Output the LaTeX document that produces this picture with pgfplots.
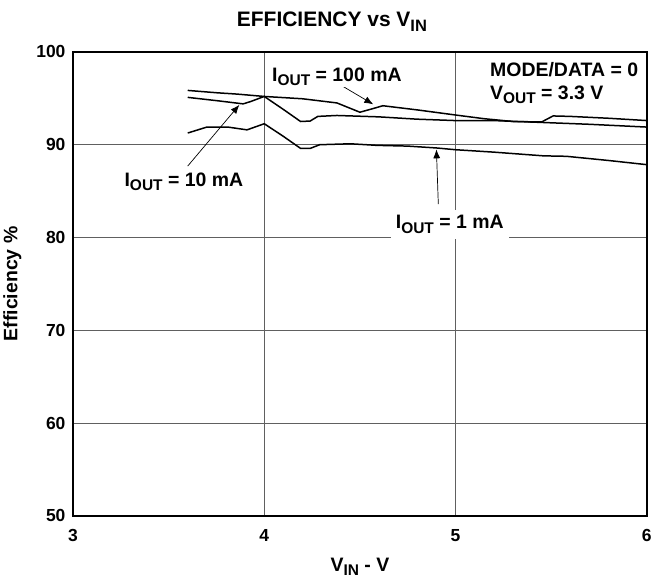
\documentclass[border=0pt]{standalone}
\usepackage{fontspec}
\setmainfont{Liberation Sans}
\usepackage{pgfplots}
\pgfplotsset{compat=1.18}
\usetikzlibrary{arrows.meta}
\newcommand{\sub}[1]{\raisebox{-0.45ex}{\fontsize{15.5}{15.5}\selectfont #1}}
\newcommand{\bigf}{\fontsize{19.5}{19.5}\selectfont\bfseries}
\begin{document}
\begin{tikzpicture}
\begin{axis}[
  scale only axis,
  width=575pt, height=465pt,
  xmin=3, xmax=6, ymin=50, ymax=100,
  xtick={3,4,5,6}, ytick={50,60,70,80,90,100},
  major tick length=0pt,
  /pgf/number format/assume math mode=true,
  ticklabel style={font=\fontsize{17.5}{17.5}\selectfont\bfseries},
  xticklabel style={yshift=-10pt},
  yticklabel style={xshift=-4pt},
  grid=major,
  major grid style={gray!75!black, line width=0.9pt},
  axis line style={line width=1.6pt},
  title={\fontsize{21}{21}\selectfont\bfseries EFFICIENCY vs V\raisebox{-0.45ex}{\fontsize{16.5}{16.5}\selectfont IN}},
  title style={yshift=11pt, xshift=-28pt},
  xlabel={\bigf V\sub{IN} - V},
  ylabel={\bigf Efficiency \%},
  xlabel style={yshift=-9pt},
  ylabel style={yshift=8pt},
  clip=false,
]
% I_OUT = 100 mA
\addplot[black, line width=1.5pt] coordinates {
(3.6,95.85) (3.75,95.6) (3.86,95.45) (4.0,95.2) (4.2,94.95) (4.38,94.5) (4.50,93.5) (4.57,93.9) (4.62,94.2) (4.8,93.75) (5.0,93.2) (5.15,92.8) (5.30,92.5) (5.45,92.45) (5.51,93.1) (5.6,93.05) (5.8,92.85) (6.0,92.6)
};
% I_OUT = 10 mA
\addplot[black, line width=1.5pt] coordinates {
(3.6,95.1) (3.75,94.75) (3.89,94.4) (3.93,94.66) (4.0,95.2) (4.1,93.8) (4.19,92.5) (4.24,92.55) (4.28,93.05) (4.38,93.15) (4.6,93.0) (4.8,92.75) (5.0,92.6) (5.2,92.6) (5.45,92.4) (5.7,92.2) (6.0,91.9)
};
% I_OUT = 1 mA
\addplot[black, line width=1.5pt] coordinates {
(3.6,91.26) (3.70,91.9) (3.81,91.9) (3.91,91.6) (4.0,92.26) (4.1,90.9) (4.19,89.6) (4.24,89.6) (4.29,90.0) (4.45,90.1) (4.59,89.93) (4.75,89.85) (4.90,89.65) (5.0,89.46) (5.2,89.2) (5.46,88.8) (5.58,88.75) (5.8,88.3) (6.0,87.85)
};
\draw[-{Latex[length=9pt,width=7pt]}, line width=0.7pt] (axis cs:4.41,96.3) -- (axis cs:4.57,94.35);
\draw[-{Latex[length=9pt,width=7pt]}, line width=0.7pt] (axis cs:3.60,87.7) -- (axis cs:3.87,94.3);
\draw[-{Latex[length=9pt,width=7pt]}, line width=0.7pt] (axis cs:4.91,83.6) -- (axis cs:4.90,89.5);
\node[fill=white, inner sep=1pt, font=\bigf] at (axis cs:4.38,97.3) {I\sub{OUT} = 100 mA};
\node[fill=white, inner sep=2pt, font=\bigf] at (axis cs:3.58,86.0) {I\sub{OUT} = 10 mA};
\node[fill=white, inner sep=5pt, font=\bigf] at (axis cs:4.97,81.4) {I\sub{OUT} = 1 mA};
\node[anchor=north west, align=left, inner sep=0pt, font=\fontsize{19.5}{23}\selectfont\bfseries] at (axis cs:5.18,98.9) {MODE/DATA = 0\\V\sub{OUT} = 3.3 V};
\path (rel axis cs:0.5,1) ++(0pt,52pt) coordinate (bbtop);
\path (bbtop) -- (bbtop);
\end{axis}
\end{tikzpicture}
\end{document}
